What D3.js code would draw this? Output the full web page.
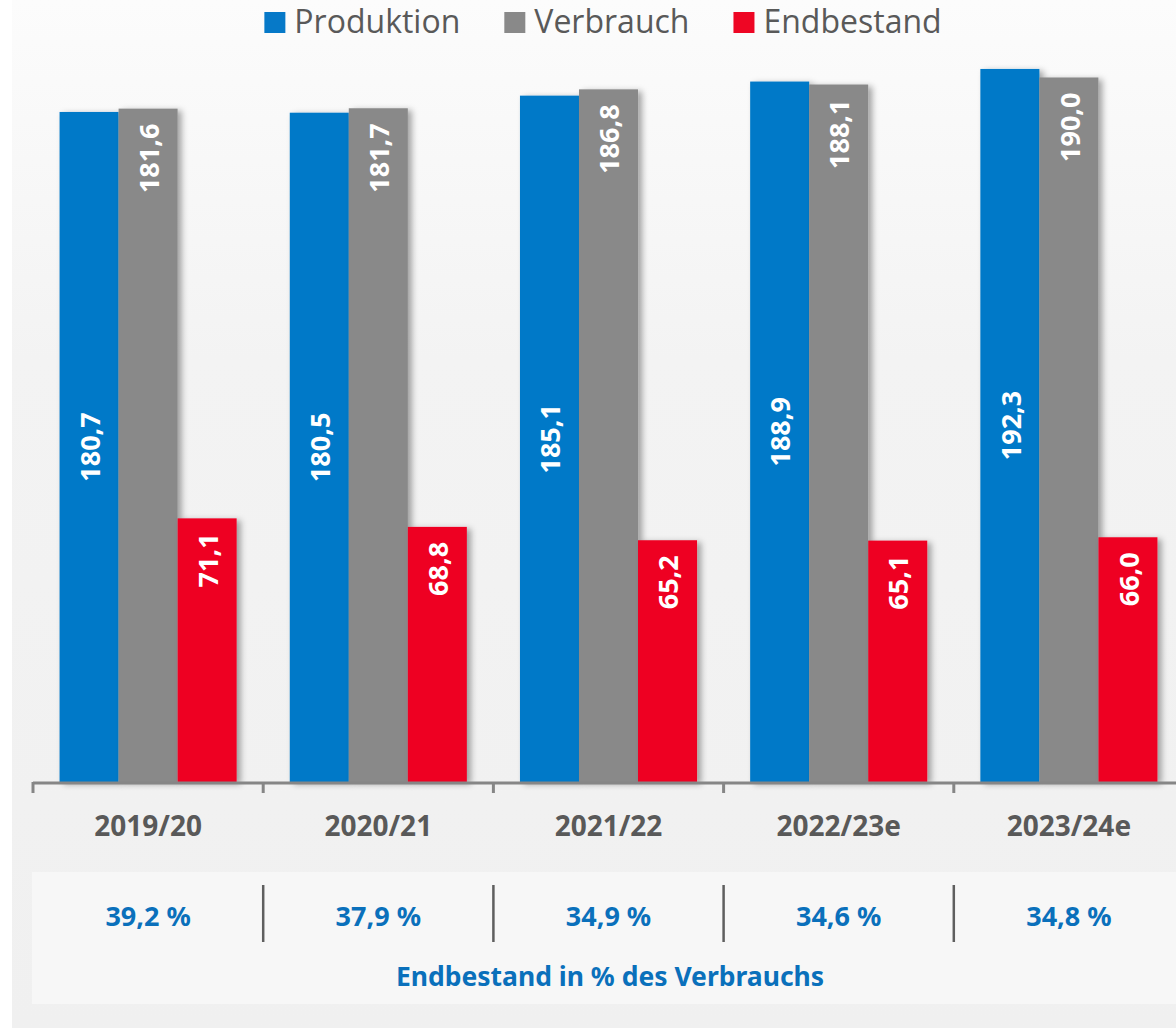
<!DOCTYPE html>
<html lang="de">
<head>
<meta charset="utf-8">
<title>Produktion, Verbrauch und Endbestand</title>
<script src="https://cdn.jsdelivr.net/npm/d3@7"></script>
<style>
  html, body { margin: 0; padding: 0; background: #ffffff; }
  svg { display: block; font-family: "Open Sans", "Noto Sans", sans-serif; }
  svg .bold { font-family: "Noto Sans", "Open Sans", sans-serif; font-weight: 700; }
</style>
</head>
<body>
<svg id="chart" width="1176" height="1029"></svg>
<script>
// Wirtschaftsjahre und Werte (Mio. t)
const categories = ["2019/20", "2020/21", "2021/22", "2022/23e", "2023/24e"];
const produktion = [180.7, 180.5, 185.1, 188.9, 192.3];
const verbrauch  = [181.6, 181.7, 186.8, 188.1, 190.0];
const endbestand = [71.1, 68.8, 65.2, 65.1, 66.0];
const bestandQuote = [39.2, 37.9, 34.9, 34.6, 34.8];
const seriesNames = ["Produktion", "Verbrauch", "Endbestand"];
const seriesColors = ["#0679c8", "#898989", "#ee0624"];
const footerText = "Endbestand in % des Verbrauchs";

const seriesValues = [produktion, verbrauch, endbestand];
const de = d3.formatLocale({ decimal: ",", thousands: ".", grouping: [3], currency: ["", " €"] });
const fmt = de.format(".1f");

const W = 1176, H = 1029;
const svg = d3.select("#chart");
const defs = svg.append("defs");

const bg = defs.append("linearGradient").attr("id", "bgGrad")
  .attr("x1", 0).attr("y1", 0).attr("x2", 0).attr("y2", 1);
bg.append("stop").attr("offset", 0).attr("stop-color", "#fcfcfc");
bg.append("stop").attr("offset", 0.35).attr("stop-color", "#f3f3f3");
bg.append("stop").attr("offset", 1).attr("stop-color", "#f0f0f0");

const shadow = defs.append("filter").attr("id", "barShadow")
  .attr("x", "-20%").attr("y", "-5%").attr("width", "150%").attr("height", "115%");
shadow.append("feDropShadow").attr("dx", 4).attr("dy", 2)
  .attr("stdDeviation", 3).attr("flood-color", "#000").attr("flood-opacity", 0.35);

// Hintergrundfläche
svg.append("rect").attr("x", 12).attr("y", 0).attr("width", W - 12).attr("height", 1028)
  .attr("fill", "url(#bgGrad)");

// Skalen
const baseY = 782;
const x = d3.scaleBand().domain(categories).range([33, 33 + 5 * 230.2]).padding(0);
const xs = d3.scaleBand().domain(seriesNames).range([0, x.bandwidth()]).paddingInner(0).paddingOuter(0.45);
const y = d3.scaleLinear().domain([0, 210]).range([baseY, baseY - 210 * 3.708]);

// Balken
const groups = svg.append("g").selectAll("g").data(categories).join("g")
  .attr("transform", d => `translate(${x(d)},0)`);

seriesNames.forEach((name, si) => {
  groups.append("rect")
    .attr("x", xs(name))
    .attr("y", (d, i) => y(seriesValues[si][i]))
    .attr("width", xs.bandwidth())
    .attr("height", (d, i) => y(0) - y(seriesValues[si][i]))
    .attr("fill", seriesColors[si])
    .attr("filter", "url(#barShadow)");
});

// Wertbeschriftungen (gedreht)
seriesNames.forEach((name, si) => {
  groups.append("text")
    .attr("class", "bold")
    .attr("transform", (d, i) => {
      const v = seriesValues[si][i];
      const cx = xs(name) + xs.bandwidth() / 2 + 1;
      const ty = si === 0 ? (y(v) + y(0)) / 2 : y(v) + 15;
      return `translate(${cx},${ty}) rotate(-90)`;
    })
    .attr("text-anchor", si === 0 ? "middle" : "end")
    .attr("dy", "0.36em")
    .attr("fill", "#ffffff")
    .attr("font-size", 27)
    .text((d, i) => fmt(seriesValues[si][i]));
});

// Kategorienachse
const axis = svg.append("g").attr("transform", `translate(0,${baseY})`)
  .call(d3.axisBottom(x).tickValues([]).tickSizeOuter(0));
axis.select(".domain").remove();
axis.append("line").attr("x1", 33).attr("x2", W).attr("y1", 1).attr("y2", 1)
  .attr("stroke", "#868686").attr("stroke-width", 3);
const boundaries = categories.map(c => x(c));
axis.selectAll("line.sep").data(boundaries).join("line").attr("class", "sep")
  .attr("x1", d => d).attr("x2", d => d).attr("y1", 0).attr("y2", 11)
  .attr("stroke", "#868686").attr("stroke-width", 3);
axis.selectAll("text.cat").data(categories).join("text").attr("class", "cat bold")
  .attr("x", d => x(d) + x.bandwidth() / 2)
  .attr("y", 54)
  .attr("text-anchor", "middle")
  .attr("fill", "#595959")
  .attr("font-size", 28)
  .text(d => d);

// Tabelle mit Bestandsquote
const table = svg.append("g");
table.append("rect").attr("x", 32).attr("y", 872).attr("width", W - 32).attr("height", 132)
  .attr("fill", "#f7f7f7");
table.selectAll("line.div").data(boundaries.slice(1)).join("line").attr("class", "div")
  .attr("x1", d => d).attr("x2", d => d).attr("y1", 885).attr("y2", 942)
  .attr("stroke", "#5f5f5f").attr("stroke-width", 2.5);
table.selectAll("text.pct").data(categories).join("text").attr("class", "pct bold")
  .attr("x", d => x(d) + x.bandwidth() / 2)
  .attr("y", 926)
  .attr("text-anchor", "middle")
  .attr("fill", "#0a70bb")
  .attr("font-size", 27)
  .text((d, i) => fmt(bestandQuote[i]) + " %");
table.append("text")
  .attr("class", "bold")
  .attr("x", 610).attr("y", 986)
  .attr("text-anchor", "middle")
  .attr("fill", "#0a70bb")
  .attr("font-size", 26.5)
  .text(footerText);

// Legende
const legend = svg.append("g");
let lx = 0;
seriesNames.forEach((name, si) => {
  const item = legend.append("g").attr("transform", `translate(${lx},0)`);
  item.append("rect").attr("x", 0).attr("y", 12).attr("width", 21).attr("height", 21)
    .attr("fill", seriesColors[si]);
  const t = item.append("text").attr("x", 30).attr("y", 33)
    .attr("fill", "#595959").attr("font-size", 32).text(name);
  lx += 30 + t.node().getComputedTextLength() + 44;
});
const legendWidth = lx - 44;
legend.attr("transform", `translate(${603 - legendWidth / 2},0)`);
</script>
</body>
</html>
